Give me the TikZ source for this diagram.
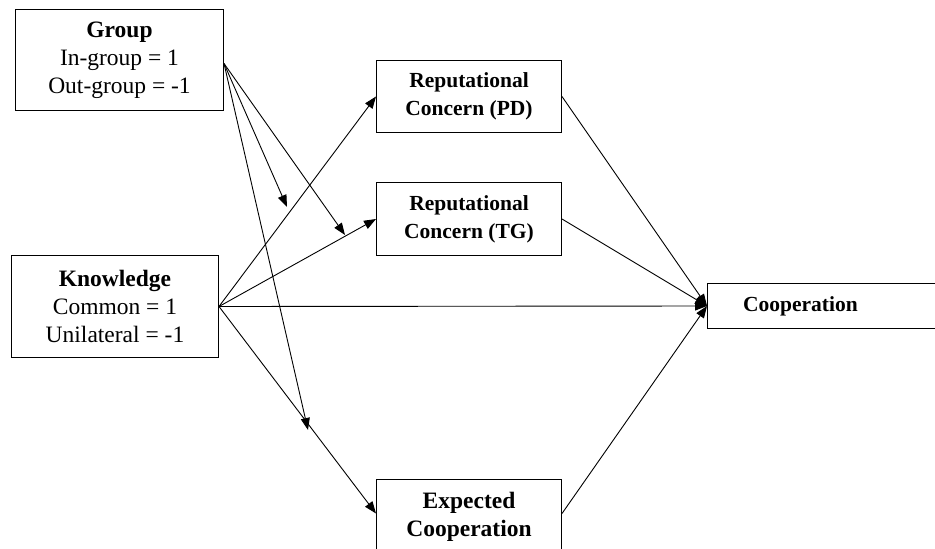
\documentclass[tikz,border=0pt]{standalone}
\usepackage{fontspec}
\setmainfont{Liberation Serif}
\usetikzlibrary{arrows.meta}
\begin{document}
\begin{tikzpicture}[x=1pt,y=-1pt,
  box/.style={draw, line width=1pt, inner sep=0pt, align=center, anchor=north west,
    font=\fontsize{21.5}{28}\selectfont},
  bigtext/.style={font=\fontsize{23.5}{28}\selectfont},
  arr/.style={-{Triangle[length=12pt,width=9pt]}, line width=0.9pt}]
\useasboundingbox (0,0) rectangle (935,549);
\clip (0,0) rectangle (935,549);
\node[box, bigtext, minimum width=208pt, minimum height=101pt] (G) at (15,9)
  {\textbf{Group}\\In-group = 1\\Out-group = -1};
\node[box, bigtext, minimum width=207pt, minimum height=102pt] (K) at (11,255)
  {\textbf{Knowledge}\\Common = 1\\Unilateral = -1};
\node[box, minimum width=185pt, minimum height=72pt] (PD) at (376,60)
  {\textbf{Reputational}\\\textbf{Concern (PD)}};
\node[box, minimum width=185pt, minimum height=73pt] (TG) at (376,182)
  {\textbf{Reputational}\\\textbf{Concern (TG)}};
\node[box, bigtext, minimum width=185pt, minimum height=74pt] (E) at (376,479)
  {\textbf{Expected}\\\textbf{Cooperation}};
\node[box, minimum width=253pt, minimum height=45pt] (C) at (707,283)
  {\textbf{Cooperation}\hspace*{67pt}};
\coordinate (gs) at ([yshift=-3.5pt]G.east);
\coordinate (m1) at (287,207);
\coordinate (m2) at (345,235);
\coordinate (m3) at (308,430);
% Knowledge paths
\draw[arr] (K.east) -- (PD.west);
\draw[arr] (K.east) -- (TG.west);
\draw[arr] (K.east) -- ([yshift=3pt]E.west);
\draw[arr] (K.east) -- (C.west);
% Group moderation
\draw[arr] (gs) -- (m1);
\draw[arr] (gs) -- (m2);
\draw[arr] (gs) -- (m3);
% Mediators to cooperation
\draw[arr] (PD.east) -- (C.west);
\draw[arr] (TG.east) -- (C.west);
\draw[arr] ([yshift=3pt]E.east) -- (C.west);
\end{tikzpicture}
\end{document}
